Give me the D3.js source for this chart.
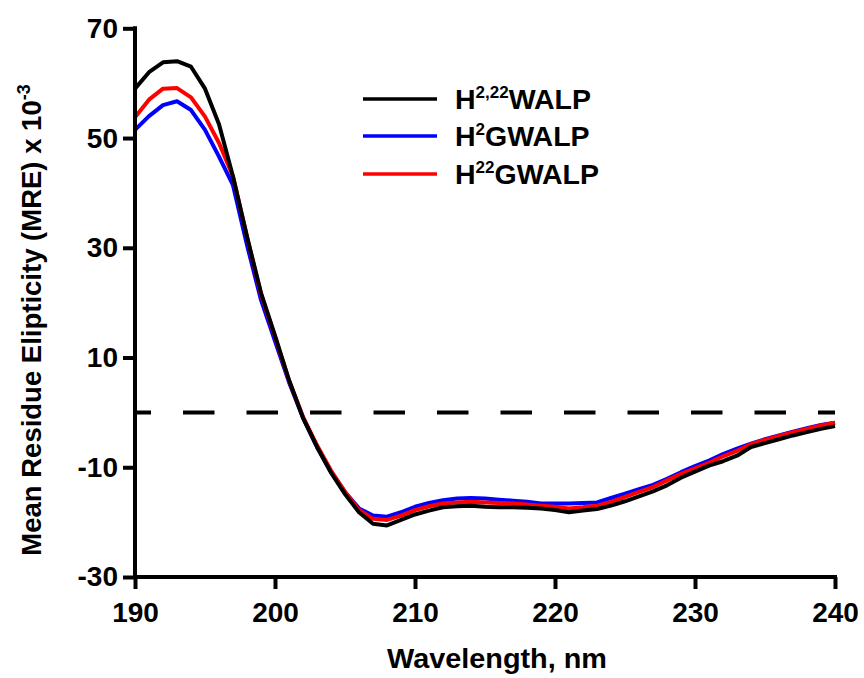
<!DOCTYPE html>
<html><head><meta charset="utf-8">
<script src="https://cdn.jsdelivr.net/npm/d3@7"></script>
<style>
body{margin:0;background:#fff;}
text{font-family:"Liberation Sans",Arial,sans-serif;font-weight:bold;fill:#000;}
</style></head>
<body><svg id="c" width="864" height="678"></svg>
<script>
const wavelengths = d3.range(190, 241);
const h222WALP = [59,62,63.8,64,63,59,52.5,43,32,21.8,14,5.9,-1,-6.3,-11,-14.9,-18.2,-20.3,-20.6,
  -19.6,-18.6,-17.9,-17.3,-17.1,-17.0,-17.2,-17.3,-17.3,-17.4,-17.5,-17.8,-18.2,-17.9,-17.6,-17.0,-16.2,
  -15.3,-14.4,-13.3,-11.9,-10.8,-9.7,-8.9,-7.9,-6.3,-5.6,-4.9,-4.2,-3.6,-3.0,-2.5];
const h2GWALP = [51.5,54,56,56.7,55.1,51.5,46.6,41.4,30.5,20.5,13,5.5,-1,-6.3,-10.8,-14.5,-17.5,-18.8,-19,
  -18.2,-17.2,-16.5,-16.0,-15.7,-15.6,-15.7,-15.9,-16.1,-16.3,-16.6,-16.6,-16.6,-16.5,-16.4,-15.6,-14.8,
  -14.0,-13.2,-12.1,-10.9,-9.8,-8.8,-7.6,-6.6,-5.7,-4.9,-4.2,-3.5,-2.9,-2.3,-1.9];
const h22GWALP = [53.8,57,59,59.1,57.4,53.9,49.1,43,32,21.5,13.8,5.8,-0.8,-6,-10.6,-14.5,-17.8,-19.4,-19.6,
  -18.8,-17.8,-17.1,-16.6,-16.4,-16.3,-16.4,-16.5,-16.6,-16.8,-17.0,-17.2,-17.5,-17.3,-17.0,-16.3,-15.4,
  -14.5,-13.6,-12.4,-11.2,-10.2,-9.2,-8.0,-7.0,-5.8,-5.0,-4.3,-3.6,-3.0,-2.4,-1.9];
const xTicks = [190,200,210,220,230,240];
const yTicks = [-30,-10,10,30,50,70];
const seriesColors = ["#0000ff","#ff0000","#000000"];

const svg = d3.select("#c");
const x = d3.scaleLinear().domain([190,240]).range([135,835]);
const y = d3.scaleLinear().domain([-30,70]).range([577,28.3]);

// zero dashed line
svg.append("line").attr("x1",137).attr("x2",835).attr("y1",y(0)).attr("y2",y(0))
  .attr("stroke","#000").attr("stroke-width",4).attr("stroke-dasharray","31.5,32").attr("stroke-dashoffset",17.5);

const line = d3.line().x((d,i)=>x(wavelengths[i])).y(d=>y(d));
[h2GWALP,h22GWALP,h222WALP].forEach((s,i)=>{
  svg.append("path").datum(s).attr("d",line).attr("fill","none")
    .attr("stroke",seriesColors[i]).attr("stroke-width",4).attr("stroke-linejoin","round");
});

// axes
const fmt = d => String(d);
const gx = svg.append("g").attr("transform",`translate(0,${y(-30)})`)
  .call(d3.axisBottom(x).tickValues(xTicks).tickFormat(fmt).tickSize(12).tickSizeOuter(0).tickPadding(13));
const gy = svg.append("g").attr("transform",`translate(${x(190)},0)`)
  .call(d3.axisLeft(y).tickValues(yTicks).tickFormat(fmt).tickSize(12).tickSizeOuter(0).tickPadding(5));
[gx,gy].forEach(g=>{
  g.select(".domain").attr("stroke","#000").attr("stroke-width",4);
  g.selectAll(".tick line").attr("stroke","#000").attr("stroke-width",4);
  g.selectAll(".tick text").attr("font-size",28).attr("font-family","Liberation Sans, Arial, sans-serif").attr("font-weight","bold").attr("fill","#000");
});
gy.select(".domain").attr("d","M0,26.3V579");
gx.select(".domain").attr("d","M133,0H837");

// axis titles
svg.append("text").attr("x",497).attr("y",668).attr("text-anchor","middle").attr("font-size",28)
  .attr("textLength",220).attr("lengthAdjust","spacingAndGlyphs")
  .attr("fill","#222").text("Wavelength, nm");
const yt = svg.append("text").attr("transform","translate(41,320) rotate(-90)").attr("text-anchor","middle").attr("font-size",27.5);
yt.append("tspan").text("Mean Residue Elipticity (MRE) x 10");
yt.append("tspan").attr("dy",-11).attr("font-size",18).text("-3");

// legend
const legend = [
  {parts:["H","2,22","WALP"], color:"#000000", y:99},
  {parts:["H","2","GWALP"], color:"#0000ff", y:136},
  {parts:["H","22","GWALP"], color:"#ff0000", y:174}
];
legend.forEach(l=>{
  svg.append("line").attr("x1",363).attr("x2",437).attr("y1",l.y).attr("y2",l.y)
    .attr("stroke",l.color).attr("stroke-width",3.5);
  const t = svg.append("text").attr("x",455).attr("y",l.y+10).attr("font-size",28.5);
  t.append("tspan").text(l.parts[0]);
  t.append("tspan").attr("dy",-11).attr("font-size",17).text(l.parts[1]);
  t.append("tspan").attr("dy",11).text(l.parts[2]);
});
</script></body></html>
